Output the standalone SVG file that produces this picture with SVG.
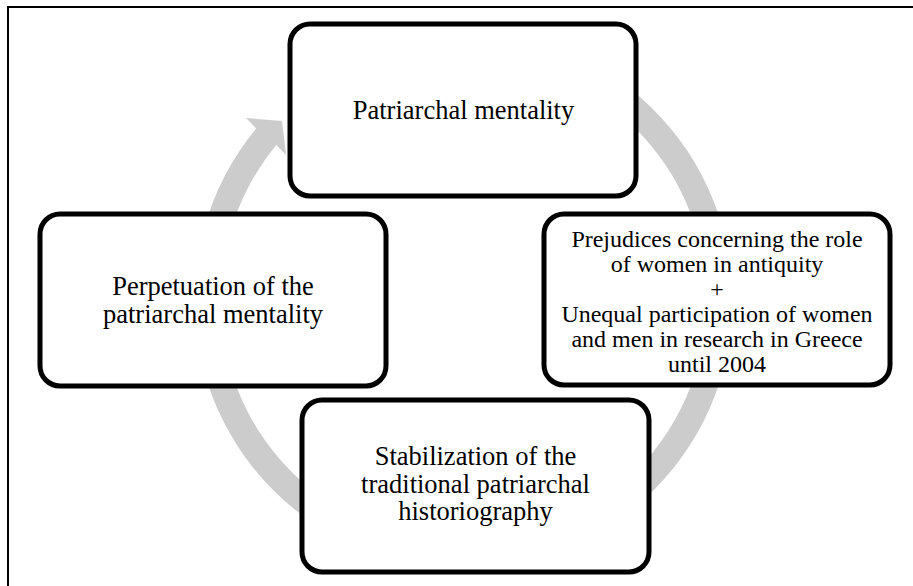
<svg xmlns="http://www.w3.org/2000/svg" width="913" height="586" viewBox="0 0 913 586">
<style>
.box{fill:#ffffff;stroke:#000000;stroke-width:5}
.t{font-family:"Liberation Serif","Times New Roman",serif;font-size:26.5px;fill:#000000;text-anchor:middle}
.ts{font-family:"Liberation Serif","Times New Roman",serif;font-size:24px;fill:#000000;text-anchor:middle}
.frame{stroke:#000000;stroke-width:2;fill:none}
</style>
<rect width="913" height="586" fill="#ffffff"/>
<path class="frame" d="M8 586 L8 7 L913 7"/>
<g id="connectors">
<path d="M555.5 47.2 A269 269 0 1 1 256.2 128.5 L246 118 L282 121 L286 155 L276.3 145.1 A243 243 0 1 0 546.6 71.7 Z" fill="#cccccc"/>
</g>
<g id="node-top">
<rect class="box" x="290" y="24" width="346" height="172" rx="20"/>
<text class="t" x="463.5" y="118.5">Patriarchal mentality</text>
</g>
<g id="node-right">
<rect class="box" x="544" y="214" width="346" height="171" rx="20"/>
<text class="ts" x="717" y="247">Prejudices concerning the role</text>
<text class="ts" x="717" y="272">of women in antiquity</text>
<text class="ts" x="717" y="297">+</text>
<text class="ts" x="717" y="322">Unequal participation of women</text>
<text class="ts" x="717" y="347">and men in research in Greece</text>
<text class="ts" x="717" y="372">until 2004</text>
</g>
<g id="node-bottom">
<rect class="box" x="302" y="400" width="347" height="172" rx="20"/>
<text class="t" x="475.5" y="465">Stabilization of the</text>
<text class="t" x="475.5" y="492.5">traditional patriarchal</text>
<text class="t" x="475.5" y="520">historiography</text>
</g>
<g id="node-left">
<rect class="box" x="40" y="214" width="346" height="172" rx="20"/>
<text class="t" x="213" y="295">Perpetuation of the</text>
<text class="t" x="213" y="322.5">patriarchal mentality</text>
</g>
</svg>
